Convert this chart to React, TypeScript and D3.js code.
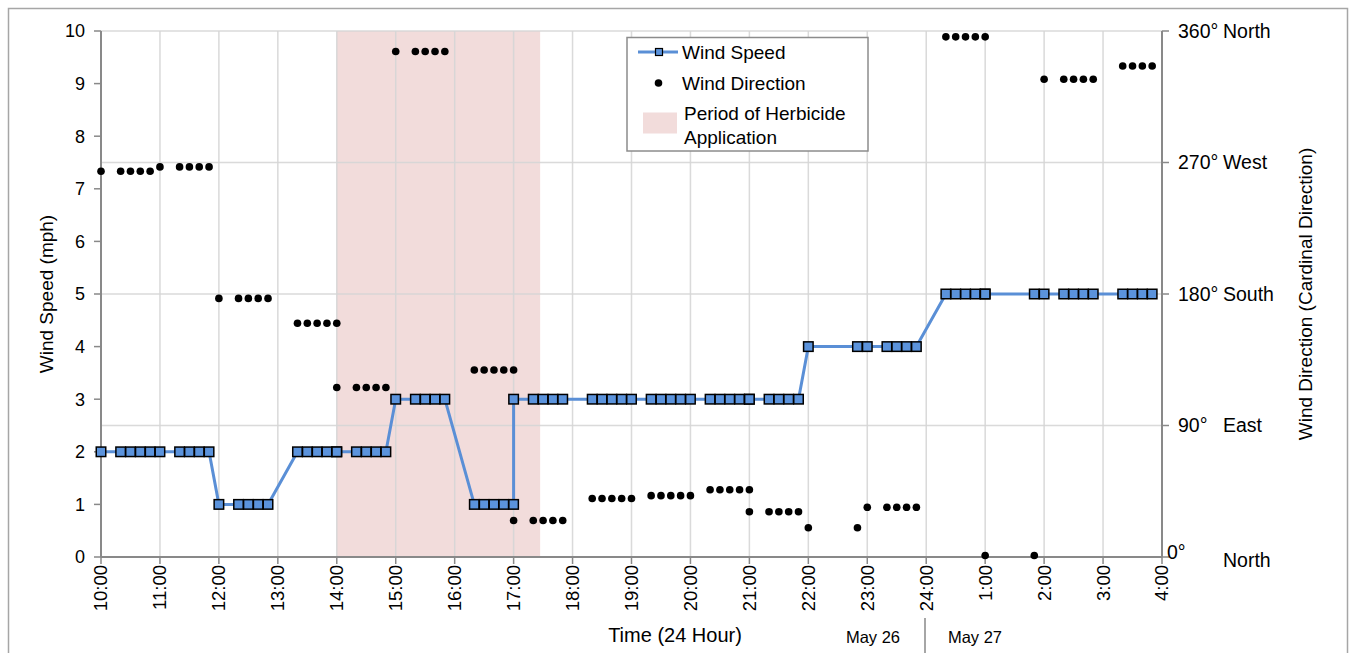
import React from "react";
import * as d3 from "d3";

// ---------- DATA ----------
const timeLabels = [
  "10:00", "10:20", "10:30", "10:40", "10:50",
  "11:00", "11:20", "11:30", "11:40", "11:50",
  "12:00", "12:20", "12:30", "12:40", "12:50",
  "13:20", "13:30", "13:40", "13:50", "14:00",
  "14:00", "14:20", "14:30", "14:40", "14:50",
  "15:00", "15:20", "15:30", "15:40", "15:50",
  "16:20", "16:30", "16:40", "16:50", "17:00",
  "17:00", "17:20", "17:30", "17:40", "17:50",
  "18:20", "18:30", "18:40", "18:50", "19:00",
  "19:20", "19:30", "19:40", "19:50", "20:00",
  "20:20", "20:30", "20:40", "20:50", "21:00",
  "21:00", "21:20", "21:30", "21:40", "21:50",
  "22:00", "22:50",
  "23:00", "23:20", "23:30", "23:40", "23:50",
  "24:20", "24:30", "24:40", "24:50", "25:00",
  "25:00", "25:50",
  "26:00", "26:20", "26:30", "26:40", "26:50",
  "27:20", "27:30", "27:40", "27:50",
];

const windSpeed = [
  2, 2, 2, 2, 2,
  2, 2, 2, 2, 2,
  1, 1, 1, 1, 1,
  2, 2, 2, 2, 2,
  2, 2, 2, 2, 2,
  3, 3, 3, 3, 3,
  1, 1, 1, 1, 1,
  3, 3, 3, 3, 3,
  3, 3, 3, 3, 3,
  3, 3, 3, 3, 3,
  3, 3, 3, 3, 3,
  3, 3, 3, 3, 3,
  4, 4,
  4, 4, 4, 4, 4,
  5, 5, 5, 5, 5,
  5, 5,
  5, 5, 5, 5, 5,
  5, 5, 5, 5,
];

const windDirection = [
  264, 264, 264, 264, 264,
  267, 267, 267, 267, 267,
  177, 177, 177, 177, 177,
  160, 160, 160, 160, 160,
  116, 116, 116, 116, 116,
  346, 346, 346, 346, 346,
  128, 128, 128, 128, 128,
  25, 25, 25, 25, 25,
  40, 40, 40, 40, 40,
  42, 42, 42, 42, 42,
  46, 46, 46, 46, 46,
  31, 31, 31, 31, 31,
  20, 20,
  34, 34, 34, 34, 34,
  356, 356, 356, 356, 356,
  1, 1,
  327, 327, 327, 327, 327,
  336, 336, 336, 336,
];

const hourTicks = [
  "10:00", "11:00", "12:00", "13:00", "14:00", "15:00", "16:00", "17:00",
  "18:00", "19:00", "20:00", "21:00", "22:00", "23:00", "24:00",
  "25:00", "26:00", "27:00", "28:00",
];
const hourTickLabels = [
  "10:00", "11:00", "12:00", "13:00", "14:00", "15:00", "16:00", "17:00",
  "18:00", "19:00", "20:00", "21:00", "22:00", "23:00", "24:00",
  "1:00", "2:00", "3:00", "4:00",
];
const speedTicks = [0, 1, 2, 3, 4, 5, 6, 7, 8, 9, 10];
const directionTicks = [0, 90, 180, 270, 360];
const directionDegreeLabels = ["0°", "90°", "180°", "270°", "360°"];
const directionCardinalLabels = ["North", "East", "South", "West", "North"];
const herbicideStart = "14:00";
const herbicideEnd = "17:27";

// ---------- helpers ----------
const toMin = (s: string) => {
  const [h, m] = s.split(":").map(Number);
  return h * 60 + m - 600;
};

const FONT = "'Liberation Sans', Arial, Helvetica, sans-serif";

export default function App() {
  const left = 101, right = 1162, top = 31, bottom = 557;
  const x = d3.scaleLinear().domain([0, 18 * 60]).range([left, right]);
  const yS = d3.scaleLinear().domain([0, 10]).range([bottom, top]);
  const yD = d3.scaleLinear().domain([0, 360]).range([bottom, top]);

  const pts = timeLabels.map((t, i) => ({
    t: toMin(t),
    s: windSpeed[i],
    d: windDirection[i],
  }));

  const line = d3
    .line<{ t: number; s: number }>()
    .x((p) => x(p.t))
    .y((p) => yS(p.s));

  const axisColor = "#898989";
  const gridColor = "#d6d6d6";
  const blue = "#5a8fd6";
  const markFill = "#5b93dc";
  const pink = "#f2dcdb";

  const hx0 = x(toMin(herbicideStart));
  const hx1 = x(toMin(herbicideEnd));
  const sq = 9.5;

  return (
    <svg
      width={1357}
      height={653}
      style={{ position: "absolute", left: 0, top: 0, background: "#fff" }}
      fontFamily={FONT}
    >
      {/* chart border */}
      <rect x={8.5} y={8.5} width={1339} height={700} fill="#fff" stroke="#a6a6a6" strokeWidth={1.5} />

      {/* herbicide period */}
      <rect x={hx0} y={top} width={hx1 - hx0} height={bottom - top} fill={pink} />

      {/* vertical gridlines */}
      {hourTicks.map((h, i) =>
        i === 0 ? null : (
          <line key={"vg" + i} x1={x(toMin(h))} x2={x(toMin(h))} y1={top} y2={bottom} stroke={gridColor} strokeWidth={1.5} opacity={0.9} />
        )
      )}
      {/* horizontal gridlines (secondary axis) */}
      {directionTicks.map((d, i) =>
        d === 0 ? null : (
          <line key={"hg" + i} x1={left} x2={right} y1={yD(d)} y2={yD(d)} stroke={gridColor} strokeWidth={1.5} opacity={0.9} />
        )
      )}

      {/* axes */}
      <line x1={left} x2={left} y1={top} y2={bottom} stroke={axisColor} strokeWidth={2} />
      <line x1={right} x2={right} y1={top} y2={bottom} stroke={axisColor} strokeWidth={2} />
      <line x1={left} x2={right} y1={bottom} y2={bottom} stroke={axisColor} strokeWidth={2} />

      {/* left ticks + labels */}
      {speedTicks.map((v) => (
        <g key={"ls" + v}>
          <line x1={left - 7} x2={left} y1={yS(v)} y2={yS(v)} stroke={axisColor} strokeWidth={1.5} />
          <text x={85} y={yS(v)} dy="0.35em" textAnchor="end" fontSize={18} fill="#000">
            {v}
          </text>
        </g>
      ))}

      {/* right ticks + labels */}
      {directionTicks.map((d, i) => (
        <g key={"rd" + d}>
          <line x1={right} x2={right + 7} y1={yD(d)} y2={yD(d)} stroke={axisColor} strokeWidth={1.5} />
          <text
            x={d === 0 ? 1167 : 1178}
            y={d === 0 ? yD(d) - 5 : yD(d)}
            dy="0.35em"
            fontSize={19.5}
            fill="#000"
          >
            {directionDegreeLabels[i]}
          </text>
          <text x={1223} y={d === 0 ? yD(d) + 3 : yD(d)} dy="0.35em" fontSize={19.5} fill="#000">
            {directionCardinalLabels[i]}
          </text>
        </g>
      ))}

      {/* bottom ticks + labels */}
      {hourTicks.map((h, i) => {
        const xx = x(toMin(h));
        return (
          <g key={"bt" + i}>
            <line x1={xx} x2={xx} y1={bottom} y2={bottom + 7} stroke={axisColor} strokeWidth={1.5} />
            <text
              transform={`translate(${xx},${565}) rotate(-90)`}
              textAnchor="end"
              dy="0.35em"
              fontSize={18.5}
              fill="#000"
            >
              {hourTickLabels[i]}
            </text>
          </g>
        );
      })}

      {/* wind speed line */}
      <path d={line(pts) || ""} fill="none" stroke={blue} strokeWidth={3} strokeLinejoin="round" />
      {pts.map((p, i) => (
        <rect
          key={"sq" + i}
          x={x(p.t) - sq / 2}
          y={yS(p.s) - sq / 2}
          width={sq}
          height={sq}
          fill={markFill}
          stroke="#000"
          strokeWidth={1.5}
        />
      ))}

      {/* wind direction dots */}
      {pts.map((p, i) => (
        <circle key={"dt" + i} cx={x(p.t)} cy={yD(p.d)} r={3.8} fill="#000" />
      ))}

      {/* axis titles */}
      <text transform={`translate(46,${(top + bottom) / 2}) rotate(-90)`} textAnchor="middle" dy="0.35em" fontSize={19} fill="#000">
        Wind Speed (mph)
      </text>
      <text transform={`translate(1305,${(top + bottom) / 2}) rotate(-90)`} textAnchor="middle" dy="0.35em" fontSize={19} fill="#000">
        Wind Direction (Cardinal Direction)
      </text>
      <text x={675} y={642} textAnchor="middle" fontSize={20} fill="#000">
        Time (24 Hour)
      </text>
      <text x={873} y={643} textAnchor="middle" fontSize={16.5} fill="#000">
        May 26
      </text>
      <text x={975} y={643} textAnchor="middle" fontSize={16.5} fill="#000">
        May 27
      </text>
      <line x1={925} x2={925} y1={618} y2={653} stroke={axisColor} strokeWidth={1.5} />

      {/* legend */}
      <g>
        <rect x={627} y={37.5} width={241} height={113.5} fill="#fff" stroke="#8c8c8c" strokeWidth={1.5} />
        <line x1={638} x2={678} y1={52} y2={52} stroke={blue} strokeWidth={3} />
        <rect x={655.5} y={48.5} width={7} height={7} fill={markFill} stroke="#000" strokeWidth={1.2} />
        <text x={682} y={52} dy="0.35em" fontSize={19} fill="#000">Wind Speed</text>
        <circle cx={658.5} cy={83} r={3.8} fill="#000" />
        <text x={682} y={83} dy="0.35em" fontSize={19} fill="#000">Wind Direction</text>
        <rect x={643} y={112.5} width={34} height={21} fill={pink} />
        <text x={684} y={113} dy="0.35em" fontSize={19} fill="#000">Period of Herbicide</text>
        <text x={684} y={137} dy="0.35em" fontSize={19} fill="#000">Application</text>
      </g>
    </svg>
  );
}
